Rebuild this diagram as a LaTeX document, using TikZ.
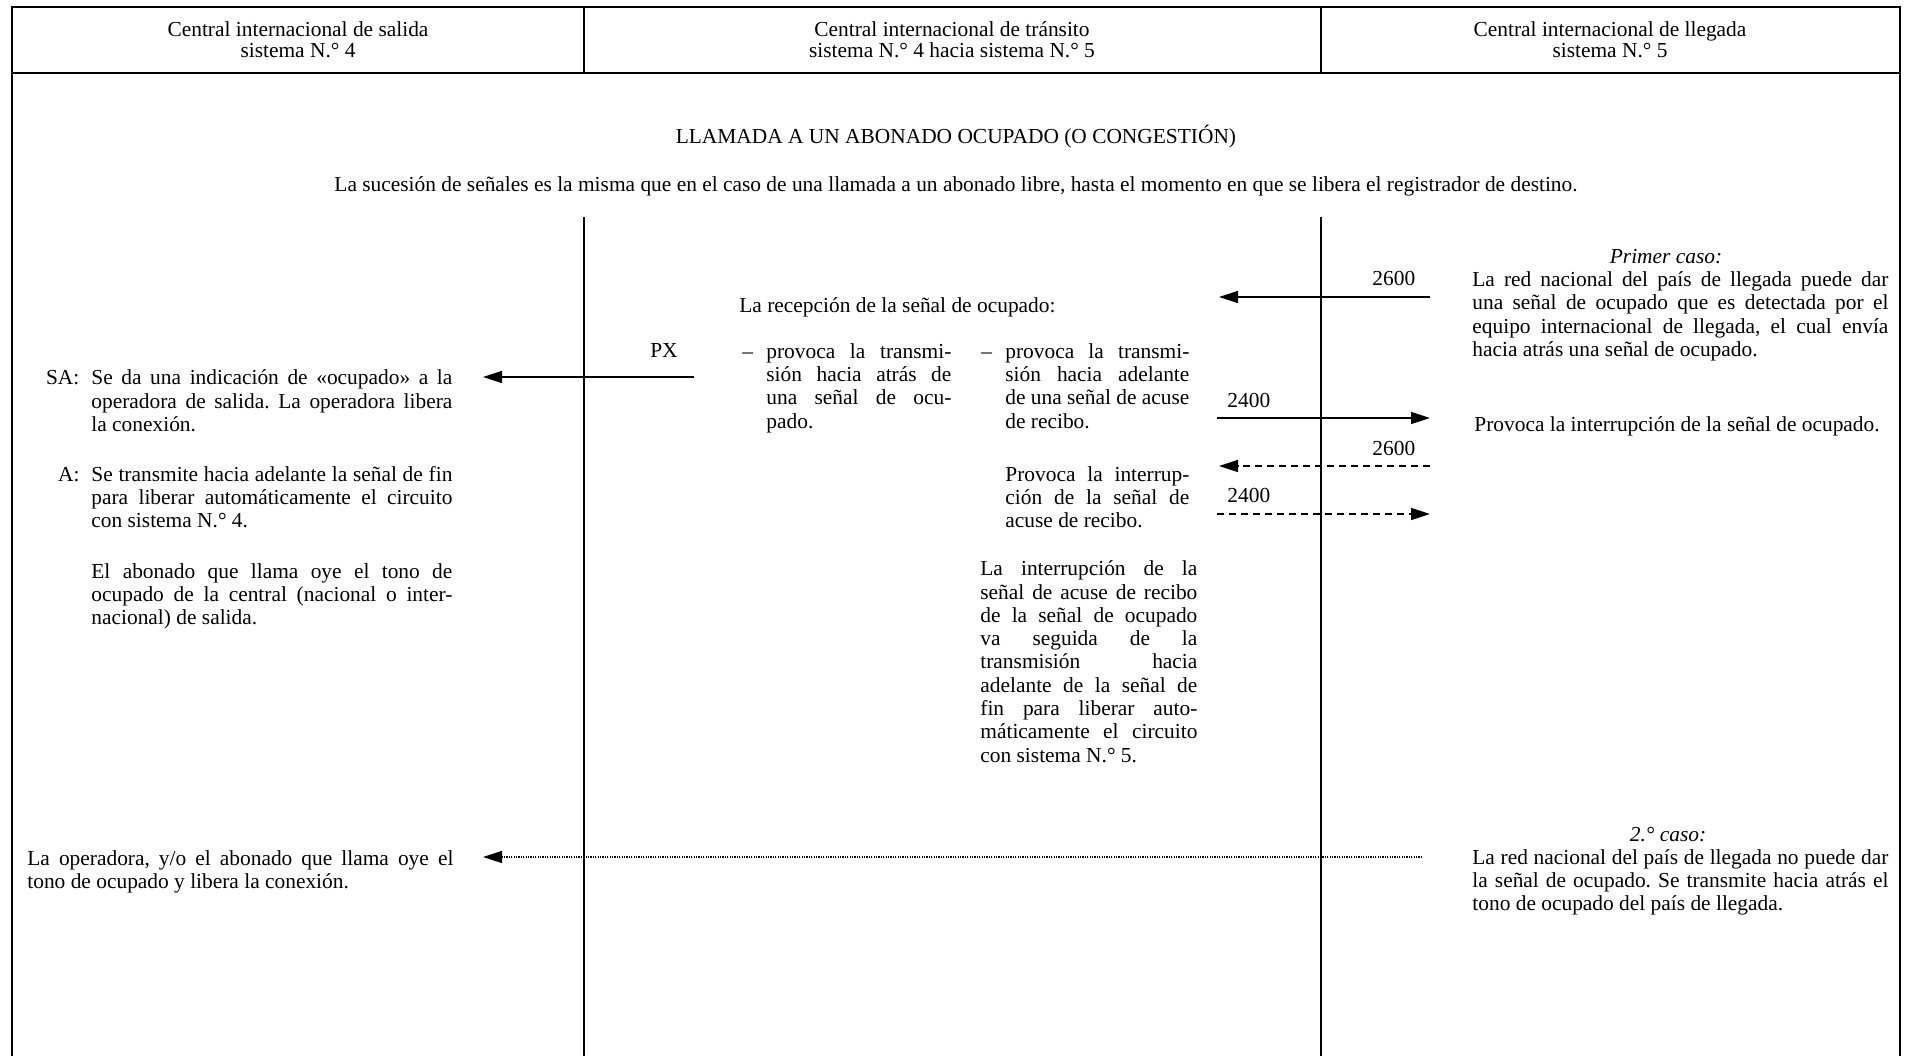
\documentclass[tikz,border=0pt]{standalone}
\usepackage{fontspec}
\setmainfont{Liberation Serif}
\usetikzlibrary{arrows.meta}
\frenchspacing
\newcommand\JL[2]{\hbox to #1pt{#2}}
\begin{document}
\begin{tikzpicture}[x=0.5pt,y=-0.5pt,
  frame/.style={line width=1.1pt},
  colline/.style={line width=0.85pt},
  ln/.style={inner sep=0pt, anchor=base west, font=\fontsize{10.7}{12}\selectfont},
  cn/.style={inner sep=0pt, anchor=base, font=\fontsize{10.7}{12}\selectfont},
  sig/.style={line width=0.75pt, -{Triangle[length=9.5pt,width=6pt]}},
  dsig/.style={sig, dash pattern=on 3.6pt off 2.4pt},
  osig/.style={line width=0.7pt, dash pattern=on 0.6pt off 0.6pt, -{Triangle[length=9.5pt,width=6pt]}}]
\useasboundingbox (0,0) rectangle (1906,1055);
% frame
\draw[frame] (12,1075) -- (12,7) -- (1900,7) -- (1900,1075);
\draw[frame] (12,73) -- (1900,73);
\draw[colline] (584,7) -- (584,73);
\draw[colline] (1321,7) -- (1321,73);
\draw[colline] (584,217) -- (584,1075);
\draw[colline] (1321,217) -- (1321,1075);
% headers
\node[cn] (h1a) at (298,36.5) {Central internacional de salida};
\node[cn] (h1b) at (298,57) {sistema N.° 4};
\node[cn] (h2a) at (952,36.5) {Central internacional de tránsito};
\node[cn] (h2b) at (952,57) {sistema N.° 4 hacia sistema N.° 5};
\node[cn] (h3a) at (1610,36.5) {Central internacional de llegada};
\node[cn] (h3b) at (1610,57) {sistema N.° 5};
% titles
\node[cn] (title) at (956,143) {LLAMADA A UN ABONADO OCUPADO (O CONGESTIÓN)};
\node[cn] (suc) at (956,191) {La sucesión de señales es la misma que en el caso de una llamada a un abonado libre, hasta el momento en que se libera el registrador de destino.};
% left column
\node[ln] (sa) at (45.7,384.7) {SA:};
\node[ln] (sa1) at (91,384.7) {\JL{180.5}{Se da una indicación de «ocupado» a la}};
\node[ln] (sa2) at (91,408) {\JL{180.5}{operadora de salida. La operadora libera}};
\node[ln] (sa3) at (91,431.3) {la conexión.};
\node[ln] (aa) at (57.7,481) {A:};
\node[ln] (a1) at (91,481) {\JL{180.5}{Se transmite hacia adelante la señal de fin}};
\node[ln] (a2) at (91,504.3) {\JL{180.5}{para liberar automáticamente el circuito}};
\node[ln] (a3) at (91,527.6) {con sistema N.° 4.};
\node[ln] (e1) at (91,578) {\JL{180.5}{El abonado que llama oye el tono de}};
\node[ln] (e2) at (91,601.3) {\JL{180.5}{ocupado de la central (nacional o inter-}};
\node[ln] (e3) at (91,624.6) {nacional) de salida.};
\node[ln] (o1) at (27,865) {\JL{213}{La operadora, y/o el abonado que llama oye el}};
\node[ln] (o2) at (27,888.3) {tono de ocupado y libera la conexión.};
% middle column
\node[ln] (rec) at (739,312) {La recepción de la señal de ocupado:};
\node[cn] (px) at (664,357) {PX};
\node[ln] (d1) at (742,358) {–};
\node[ln] (i1a) at (766,358) {\JL{92.5}{provoca la transmi-}};
\node[ln] (i1b) at (766,381.3) {\JL{92.5}{sión hacia atrás de}};
\node[ln] (i1c) at (766,404.6) {\JL{92.5}{una señal de ocu-}};
\node[ln] (i1d) at (766,428) {pado.};
\node[ln] (d2) at (981,358) {–};
\node[ln] (i2a) at (1005,358) {\JL{92}{provoca la transmi-}};
\node[ln] (i2b) at (1005,381.3) {\JL{92}{sión hacia adelante}};
\node[ln] (i2c) at (1005,404.6) {\JL{92}{de una señal de acuse}};
\node[ln] (i2d) at (1005,428) {de recibo.};
\node[ln] (p1) at (1005,481) {\JL{92}{Provoca la interrup-}};
\node[ln] (p2) at (1005,504.3) {\JL{92}{ción de la señal de}};
\node[ln] (p3) at (1005,527.6) {acuse de recibo.};
\node[ln] (l1) at (980,575.7) {\JL{108.5}{La interrupción de la}};
\node[ln] (l2) at (980,599) {\JL{108.5}{señal de acuse de recibo}};
\node[ln] (l3) at (980,622.3) {\JL{108.5}{de la señal de ocupado}};
\node[ln] (l4) at (980,645.6) {\JL{108.5}{va seguida de la}};
\node[ln] (l5) at (980,668.9) {\JL{108.5}{transmisión hacia}};
\node[ln] (l6) at (980,692.2) {\JL{108.5}{adelante de la señal de}};
\node[ln] (l7) at (980,715.5) {\JL{108.5}{fin para liberar auto-}};
\node[ln] (l8) at (980,738.8) {\JL{108.5}{máticamente el circuito}};
\node[ln] (l9) at (980,762.1) {con sistema N.° 5.};
% right column
\node[cn, font=\fontsize{10.7}{12}\selectfont\itshape] (c1) at (1666,263) {Primer caso:};
\node[ln] (r1) at (1472,286.4) {\JL{208}{La red nacional del país de llegada puede dar}};
\node[ln] (r2) at (1472,309.7) {\JL{208}{una señal de ocupado que es detectada por el}};
\node[ln] (r3) at (1472,333) {\JL{208}{equipo internacional de llegada, el cual envía}};
\node[ln] (r4) at (1472,356.3) {hacia atrás una señal de ocupado.};
\node[ln] (r5) at (1474,431) {Provoca la interrupción de la señal de ocupado.};
\node[cn, font=\fontsize{10.7}{12}\selectfont\itshape] (c2) at (1668,841) {2.° caso:};
\node[ln] (s1) at (1472,864) {\JL{208}{La red nacional del país de llegada no puede dar}};
\node[ln] (s2) at (1472,887.3) {\JL{208}{la señal de ocupado. Se transmite hacia atrás el}};
\node[ln] (s3) at (1472,910.6) {tono de ocupado del país de llegada.};
% signal labels
\node[ln] (f1) at (1372,285) {2600};
\node[ln] (f2) at (1227,407) {2400};
\node[ln] (f3) at (1372,455) {2600};
\node[ln] (f4) at (1227,502) {2400};
% signal arrows
\coordinate (a1s) at (1430,297); \coordinate (a1e) at (1219,297);
\coordinate (pxs) at (694,377);  \coordinate (pxe) at (483,377);
\coordinate (a2s) at (1217,418); \coordinate (a2e) at (1430,418);
\coordinate (a3s) at (1430,466); \coordinate (a3e) at (1219,466);
\coordinate (a4s) at (1217,514); \coordinate (a4e) at (1430,514);
\coordinate (a5s) at (1422,857); \coordinate (a5e) at (483,857);
\draw[sig] (a1s) -- (a1e);
\draw[sig] (pxs) -- (pxe);
\draw[sig] (a2s) -- (a2e);
\draw[dsig] (a3s) -- (a3e);
\draw[dsig] (a4s) -- (a4e);
\draw[osig] (a5s) -- (a5e);
\end{tikzpicture}
\end{document}
